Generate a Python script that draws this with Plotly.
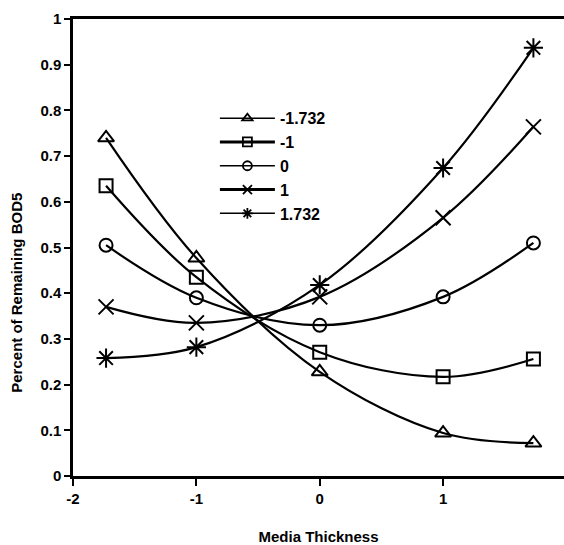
import plotly.graph_objects as go

x_vals = [-1.732, -1, 0, 1, 1.732]
series_names = ["-1.732", "-1", "0", "1", "1.732"]
s_m1732 = [0.74, 0.477, 0.228, 0.094, 0.072]
s_m1 = [0.635, 0.435, 0.271, 0.217, 0.256]
s_0 = [0.505, 0.39, 0.33, 0.392, 0.51]
s_1 = [0.37, 0.335, 0.392, 0.565, 0.764]
s_1732 = [0.258, 0.282, 0.418, 0.674, 0.937]
x_ticks = [-2, -1, 0, 1, 2]
y_ticks = [0, 0.1, 0.2, 0.3, 0.4, 0.5, 0.6, 0.7, 0.8, 0.9, 1]

all_series = [s_m1732, s_m1, s_0, s_1, s_1732]
symbols = ["triangle-up-open", "square-open", "circle-open", "x-thin-open", "asterisk-open"]
sizes = [14, 13, 13, 15, 16]
legend_line_w = [1.5, 3, 1.5, 3, 1.5]

fig = go.Figure()
for name, ys, sym, sz in zip(series_names, all_series, symbols, sizes):
    fig.add_trace(go.Scatter(
        x=x_vals, y=ys, mode="lines+markers", name=name, showlegend=False,
        line=dict(color="black", width=2.2, shape="spline", smoothing=1),
        marker=dict(symbol=sym, size=sz, color="black", line=dict(color="black", width=2)),
    ))
# legend entries
for name, sym, lw in zip(series_names, symbols, legend_line_w):
    fig.add_trace(go.Scatter(
        x=[None], y=[None], mode="lines+markers", name=name, legendgroup=name,
        line=dict(color="black", width=lw),
        marker=dict(symbol=sym, size=9, color="black", line=dict(color="black", width=1.8)),
    ))

font_family = "Liberation Sans, Arial, sans-serif"
fig.update_layout(
    width=564, height=545,
    margin=dict(l=73, r=0, t=19, b=69),
    paper_bgcolor="white", plot_bgcolor="white",
    font=dict(family=font_family, color="black", size=15),
    showlegend=True,
    legend=dict(
        x=0.289, y=0.82, xanchor="left", yanchor="top",
        bgcolor="rgba(0,0,0,0)", itemwidth=55, tracegroupgap=0,
        font=dict(family=font_family, size=16, color="black", weight="bold"),
    ),
    xaxis=dict(
        range=[-2, 1.98], tickvals=x_ticks, ticktext=[str(v) for v in x_ticks],
        showgrid=False, zeroline=False, showline=True, linecolor="black", linewidth=2.5,
        mirror=True, ticks="outside", ticklen=7, tickwidth=2, tickcolor="black",
        tickfont=dict(family=font_family, size=15, weight="bold"),
        title=dict(text="<b>Media Thickness</b>", font=dict(family=font_family, size=15), standoff=26),
    ),
    yaxis=dict(
        range=[0, 1], tickvals=y_ticks,
        ticktext=["0", "0.1", "0.2", "0.3", "0.4", "0.5", "0.6", "0.7", "0.8", "0.9", "1"],
        showgrid=False, zeroline=False, showline=True, linecolor="black", linewidth=2.5,
        ticks="outside", ticklen=6, tickwidth=2, tickcolor="black",
        tickfont=dict(family=font_family, size=15, weight="bold"),
    ),
    annotations=[dict(
        text="<b>Percent of Remaining BOD5</b>", textangle=-90,
        xref="paper", yref="paper", x=-0.115, y=0.40,
        xanchor="center", yanchor="middle", showarrow=False,
        font=dict(family=font_family, size=15, color="black"),
    )],
)

fig.write_html("out.html")
